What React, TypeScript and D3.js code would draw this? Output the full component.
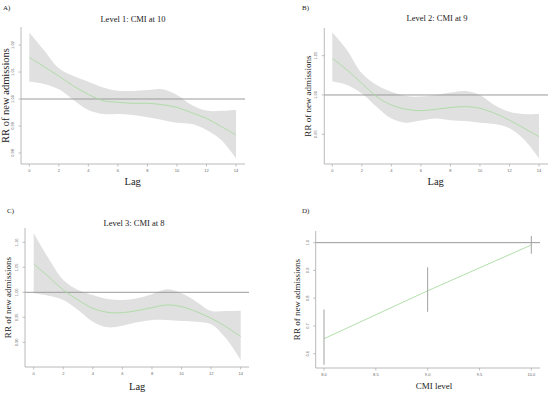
import * as d3 from "d3";
import React from "react";

// lag 0..14
const lags = d3.range(0, 15);

// Level 1: CMI at 10
const fitA = [1.0154, 1.012, 1.0085, 1.0048, 1.0017, 0.9994, 0.9988, 0.9984, 0.9984, 0.9979, 0.9969, 0.9949, 0.9928, 0.9898, 0.9867];
const highA = [1.0247, 1.0181, 1.0114, 1.0085, 1.0064, 1.0043, 1.0031, 1.003, 1.0033, 1.0036, 1.0015, 0.9978, 0.9957, 0.9956, 0.9959];
const lowA = [1.0064, 1.0056, 1.0036, 0.9996, 0.9959, 0.9944, 0.9944, 0.9941, 0.9932, 0.9922, 0.9912, 0.9907, 0.9885, 0.9848, 0.978];

// Level 2: CMI at 9
const fitB = [1.0466, 1.0318, 1.0148, 0.9979, 0.9873, 0.9818, 0.98, 0.9818, 0.984, 0.9852, 0.983, 0.9767, 0.968, 0.9576, 0.947];
const highB = [1.0797, 1.057, 1.0275, 1.0127, 1.0042, 0.9987, 0.998, 1.0, 1.003, 1.005, 1.0, 0.987, 0.9788, 0.9758, 0.9758];
const lowB = [1.017, 1.0127, 1.002, 0.985, 0.97, 0.9648, 0.9674, 0.97, 0.968, 0.967, 0.9648, 0.963, 0.9576, 0.943, 0.9195];

// Level 3: CMI at 8
const fitC = [1.0567, 1.0313, 1.0047, 0.9847, 0.968, 0.96, 0.9593, 0.9633, 0.9693, 0.9747, 0.9713, 0.9613, 0.948, 0.9313, 0.9113];
const highC = [1.118, 1.068, 1.0247, 1.0047, 0.9947, 0.9867, 0.9847, 0.988, 0.996, 1.006, 0.998, 0.9813, 0.9627, 0.9627, 0.9633];
const lowC = [0.998, 0.9933, 0.9847, 0.9647, 0.9413, 0.93, 0.9333, 0.94, 0.9447, 0.9447, 0.9427, 0.9413, 0.936, 0.908, 0.8647];

// D: cumulative RR by CMI level
const cmiLevels = [8, 9, 10];
const cmiFit = [0.654, 0.8265, 0.9916];
const cmiLow = [0.56, 0.751, 0.96];
const cmiHigh = [0.759, 0.911, 1.024];

const lagTicks = [0, 2, 4, 6, 8, 10, 12, 14];
const ticksA = [0.98, 0.99, 1.0, 1.01, 1.02];
const ticksB = [0.95, 1.0, 1.05];
const ticksC = [0.9, 0.95, 1.0, 1.05, 1.1];
const ticksD = [0.6, 0.7, 0.8, 0.9, 1.0];
const cmiTicks = [8.0, 8.5, 9.0, 9.5, 10.0];

const SERIF = "'Liberation Serif', 'DejaVu Serif', serif";
const BAND = "#e0e0e0";
const FIT = "#a9dba0";
const REF = "#9a9a9a";
const AXIS = "#a8a8a8";

function Axes({ x, y, xTicks, yTicks, xFmt, yFmt, left, right, top, bottom }) {
  return (
    <g>
      <line x1={left} x2={left} y1={top} y2={bottom} stroke={AXIS} strokeWidth={0.8} />
      <line x1={left} x2={right} y1={bottom} y2={bottom} stroke={AXIS} strokeWidth={0.8} />
      {xTicks.map((t) => (
        <g key={"x" + t} transform={`translate(${x(t)},${bottom})`}>
          <line y2={2.5} stroke={AXIS} strokeWidth={0.7} />
          <text y={8} textAnchor="middle" fontSize={4} fill="#666" fontFamily="sans-serif">
            {xFmt(t)}
          </text>
        </g>
      ))}
      {yTicks.map((t) => (
        <g key={"y" + t} transform={`translate(${left},${y(t)})`}>
          <line x2={-2.5} stroke={AXIS} strokeWidth={0.7} />
          <text transform="translate(-7,0) rotate(-90)" textAnchor="middle" fontSize={4} fill="#666" fontFamily="sans-serif">
            {yFmt(t)}
          </text>
        </g>
      ))}
    </g>
  );
}

function LagPanel({ tag, tagX, tagY, title, titleX, titleY, fit, low, high, ticks, yDomain, left, right, top, bottom, x0, x14, labelSize, labelX, lagY }) {
  const x = d3.scaleLinear().domain([0, 14]).range([x0, x14]);
  const y = d3.scaleLinear().domain(yDomain).range([bottom, top]);
  const band = d3
    .area<number>()
    .x((d) => x(d))
    .y0((d) => y(low[d]))
    .y1((d) => y(high[d]))
    .curve(d3.curveCatmullRom.alpha(0.5));
  const line = d3
    .line<number>()
    .x((d) => x(d))
    .y((d) => y(fit[d]))
    .curve(d3.curveCatmullRom.alpha(0.5));
  return (
    <g>
      <text x={tagX} y={tagY} fontSize={7} fontFamily={SERIF} fill="#222">{tag}</text>
      <text x={titleX} y={titleY} fontSize={8.5} fontFamily={SERIF} textAnchor="middle" fill="#222">{title}</text>
      <path d={band(lags)} fill={BAND} />
      <line x1={left} x2={right} y1={y(1)} y2={y(1)} stroke={REF} strokeWidth={1} />
      <path d={line(lags)} fill="none" stroke={FIT} strokeWidth={0.9} />
      <Axes x={x} y={y} xTicks={lagTicks} yTicks={ticks} xFmt={(d) => String(d)} yFmt={d3.format(".2f")}
        left={left} right={right} top={top} bottom={bottom} />
      <text transform={`translate(${labelX},${(top + bottom) / 2}) rotate(-90)`} textAnchor="middle" fontSize={labelSize}
        fontFamily={SERIF} fill="#222">RR of new admissions</text>
      <text x={(x0 + x14) / 2} y={lagY} textAnchor="middle" fontSize={10.5} fontWeight="normal" fontFamily={SERIF} fill="#222">Lag</text>
    </g>
  );
}

function CmiPanel() {
  const left = 315.7, right = 540, top = 231, bottom = 368;
  const x = d3.scaleLinear().domain([8, 10]).range([324, 531.3]);
  const y = d3.scaleLinear().domain([0.5485, 1.042]).range([bottom, top]);
  const line = d3
    .line<number>()
    .x((_, i) => x(cmiLevels[i]))
    .y((d) => y(d));
  return (
    <g>
      <text x={302} y={213} fontSize={7} fontFamily={SERIF} fill="#222">D)</text>
      <line x1={left} x2={right} y1={y(1)} y2={y(1)} stroke={REF} strokeWidth={1} />
      <path d={line(cmiFit)} fill="none" stroke={FIT} strokeWidth={0.9} />
      {cmiLevels.map((c, i) => (
        <line key={c} x1={x(c)} x2={x(c)} y1={y(cmiLow[i])} y2={y(cmiHigh[i])} stroke="#a0a0a0" strokeWidth={1} />
      ))}
      <Axes x={x} y={y} xTicks={cmiTicks} yTicks={ticksD} xFmt={d3.format(".1f")} yFmt={d3.format(".1f")}
        left={left} right={right} top={top} bottom={bottom} />
      <text transform={`translate(${300},${(top + bottom) / 2}) rotate(-90)`} textAnchor="middle" fontSize={9}
        fontFamily={SERIF} fill="#222">RR of new admissions</text>
      <text x={434} y={389} textAnchor="middle" fontSize={9} fontFamily={SERIF} fill="#222">CMI level</text>
    </g>
  );
}

export default function App() {
  return (
    <svg width={550} height={395} style={{ position: "absolute", left: 0, top: 0, background: "#fff" }}>
      <LagPanel tag="A)" tagX={3} tagY={10} title="Level 1: CMI at 10" titleX={133} titleY={22}
        fit={fitA} low={lowA} high={highA} ticks={ticksA} yDomain={[0.9759, 1.0267]}
        left={21} right={245} top={27} bottom={164} x0={29.3} x14={236} labelSize={10.5} labelX={9} lagY={185} />
      <LagPanel tag="B)" tagX={302} tagY={10} title="Level 2: CMI at 9" titleX={437} titleY={21}
        fit={fitB} low={lowB} high={highB} ticks={ticksB} yDomain={[0.9122, 1.0852]}
        left={324.3} right={548} top={28} bottom={164} x0={332.3} x14={539} labelSize={9} labelX={311} lagY={185} />
      <LagPanel tag="C)" tagX={7} tagY={213} title="Level 3: CMI at 8" titleX={134} titleY={226}
        fit={fitC} low={lowC} high={highC} ticks={ticksC} yDomain={[0.8506, 1.1286]}
        left={25} right={249} top={228} bottom={367} x0={33.7} x14={240.7} labelSize={9} labelX={11} lagY={390} />
      <CmiPanel />
    </svg>
  );
}
